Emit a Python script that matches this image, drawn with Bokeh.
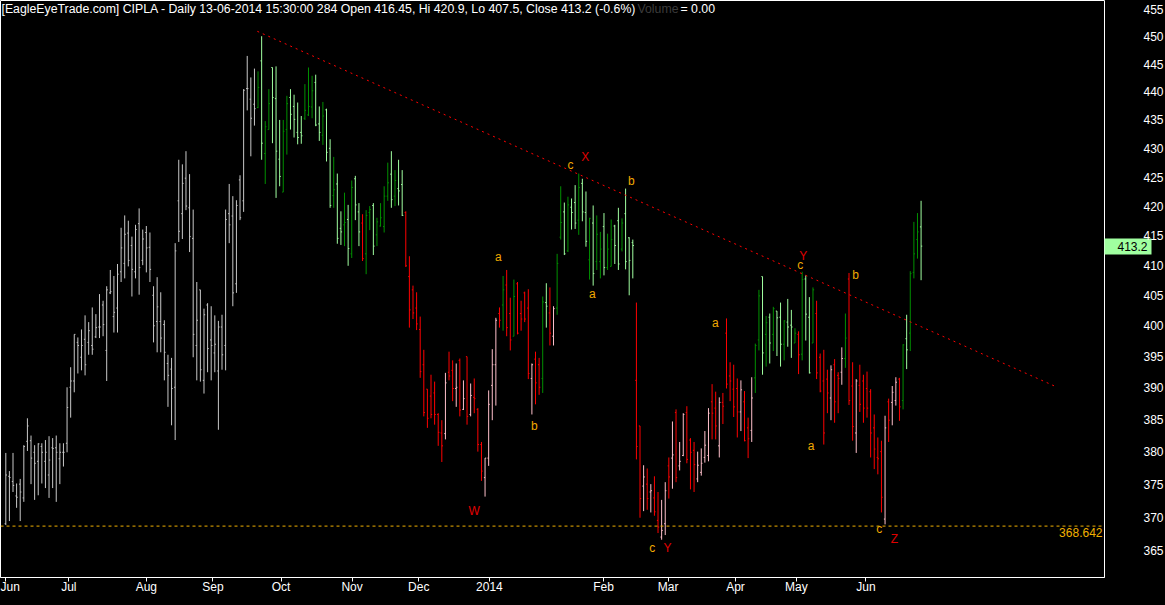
from bokeh.plotting import figure
from bokeh.models import (Range1d, FixedTicker, PrintfTickFormatter, LinearAxis, LogAxis, Label,
                          ColumnDataSource, Span)
from bokeh.core.properties import value
from bokeh.embed import file_html
from bokeh.resources import INLINE

# ---------------- data (CIPLA daily OHLC, Jun 2013 - 13 Jun 2014) ----------------
opens = [
    369.0, 376.2, 375.4, 373.2, 375.0, 372.9, 381.6, 381.7, 379.9, 378.5,
    380.8, 378.5, 376.4, 380.6, 380.6, 378.9, 379.9, 381.3, 390.1, 391.1,
    397.3, 394.9, 397.8, 397.3, 396.8, 398.2, 399.8, 403.4, 396.0, 405.4,
    401.5, 402.9, 408.9, 410.3, 415.4, 413.3, 408.9, 417.0, 410.8, 415.5,
    413.0, 405.0, 400.7, 400.7, 400.2, 393.9, 393.0, 390.1, 420.9, 418.7,
    424.8, 419.7, 414.5, 396.8, 405.9, 391.2, 403.4, 397.7, 395.6, 392.7,
    399.8, 396.8, 418.7, 418.3, 406.9, 424.5, 420.9, 440.6, 438.7, 437.8,
    437.2, 445.6, 429.1, 433.3, 444.4, 438.8, 428.1, 422.4, 433.3, 439.0,
    437.4, 432.8, 432.8, 435.3, 435.9, 437.3, 441.7, 434.3, 432.3, 436.8,
    430.0, 421.8, 423.8, 416.2, 416.8, 417.7, 411.9, 424.7, 419.0, 417.1,
    411.9, 418.9, 420.1, 415.1, 416.6, 416.5, 421.7, 425.5, 421.7, 423.0,
    423.7, 418.9, 408.1, 405.9, 402.9, 399.4, 393.7, 389.8, 388.7, 389.2,
    385.8, 382.9, 382.8, 392.5, 392.8, 389.9, 394.4, 386.6, 395.0, 385.8,
    388.5, 386.6, 381.1, 376.0, 379.0, 390.4, 393.7, 402.0, 403.4, 406.7,
    402.0, 398.3, 406.9, 402.0, 405.4, 402.9, 391.5, 394.6, 393.7, 391.5,
    403.8, 402.1, 398.3, 402.9, 414.7, 419.0, 412.4, 419.8, 420.6, 417.6,
    423.9, 418.9, 410.9, 417.1, 410.6, 410.6, 416.5, 409.6, 409.8, 416.6,
    417.5, 412.7, 418.7, 414.6, 413.8, 391.2, 384.0, 374.7, 375.0, 373.8,
    372.9, 369.5, 367.0, 369.0, 377.8, 379.0, 386.1, 377.8, 379.4, 386.1,
    381.8, 380.2, 375.8, 376.8, 379.1, 379.4, 387.8, 386.8, 380.9, 387.7,
    398.8, 391.9, 389.8, 389.9, 386.2, 387.8, 383.7, 383.3, 391.6, 397.7,
    408.1, 398.6, 401.4, 398.6, 402.4, 401.4, 397.0, 400.6, 400.1, 397.2,
    398.6, 395.4, 407.7, 401.4, 397.2, 402.0, 394.9, 391.1, 391.4, 388.4,
    393.7, 392.0, 392.5, 394.7, 407.7, 390.3, 382.9, 390.4, 391.1, 389.9,
    389.4, 383.7, 379.1, 380.0, 369.7, 387.8, 387.7, 388.0, 391.4, 388.0,
    397.9, 398.8, 408.8, 414.3, 416.45]

highs = [
    379.8, 377.0, 379.8, 375.1, 375.8, 381.0, 385.2, 382.5, 381.0, 381.3,
    381.3, 381.8, 382.4, 382.1, 382.5, 381.3, 381.3, 390.1, 393.3, 398.6,
    398.1, 399.4, 401.7, 400.6, 403.0, 401.9, 405.2, 404.1, 406.5, 409.2,
    408.2, 410.2, 416.3, 418.4, 417.5, 414.8, 416.8, 419.6, 416.0, 416.6,
    415.5, 406.5, 408.0, 405.5, 400.9, 395.3, 394.8, 413.7, 428.0, 427.2,
    429.5, 425.5, 419.4, 407.2, 405.9, 402.8, 403.7, 403.2, 401.7, 400.8,
    401.8, 419.4, 423.8, 421.7, 421.0, 425.3, 440.5, 446.5, 442.6, 444.2,
    443.7, 450.1, 434.8, 440.5, 444.4, 444.6, 435.0, 435.0, 439.3, 440.5,
    439.5, 438.1, 435.7, 441.4, 444.4, 442.9, 443.1, 437.4, 438.2, 437.0,
    431.6, 428.5, 425.6, 419.1, 422.3, 420.2, 424.4, 425.2, 420.5, 418.6,
    419.3, 420.0, 420.5, 418.0, 420.5, 423.4, 427.5, 429.5, 426.2, 428.0,
    426.2, 419.1, 411.5, 406.6, 405.5, 401.5, 396.1, 389.8, 392.1, 391.0,
    386.0, 384.9, 392.4, 395.8, 394.4, 393.9, 394.7, 391.2, 395.0, 390.7,
    391.5, 386.8, 381.5, 379.0, 389.6, 396.2, 401.3, 403.0, 408.2, 409.2,
    404.6, 407.6, 407.2, 404.1, 405.6, 406.0, 393.9, 395.8, 394.8, 404.8,
    407.0, 406.3, 403.2, 411.9, 423.4, 420.6, 421.6, 421.3, 423.6, 425.6,
    424.7, 422.5, 418.0, 420.1, 418.4, 415.6, 418.8, 415.3, 417.7, 416.8,
    419.7, 417.9, 423.0, 414.7, 414.3, 403.8, 384.0, 377.9, 377.4, 375.0,
    376.2, 373.8, 372.6, 375.3, 379.1, 384.7, 386.6, 381.5, 386.0, 387.1,
    382.1, 381.5, 380.0, 380.5, 383.2, 386.8, 390.6, 389.4, 388.5, 389.2,
    401.2, 394.1, 393.7, 391.5, 391.2, 389.5, 385.3, 391.7, 397.1, 405.9,
    408.1, 401.6, 402.0, 403.1, 402.4, 403.8, 400.9, 404.4, 402.6, 399.6,
    399.1, 408.9, 408.3, 404.7, 406.3, 404.1, 395.5, 396.1, 392.9, 393.6,
    394.6, 392.5, 396.5, 402.0, 408.7, 394.1, 391.4, 393.7, 392.1, 392.6,
    389.8, 385.8, 382.2, 381.7, 385.6, 388.3, 390.3, 391.7, 391.6, 397.0,
    401.8, 409.0, 417.3, 418.8, 420.9]

lows = [
    368.8, 369.4, 373.8, 371.4, 369.4, 372.3, 380.1, 375.0, 372.6, 373.3,
    375.1, 374.4, 372.9, 374.4, 372.3, 375.0, 377.7, 379.9, 385.3, 389.3,
    392.3, 392.8, 392.0, 395.3, 395.3, 398.0, 398.0, 398.3, 391.1, 405.2,
    398.9, 398.9, 407.2, 407.8, 409.8, 404.8, 407.8, 405.1, 410.0, 408.8,
    407.2, 397.3, 395.7, 395.7, 391.2, 387.0, 384.1, 381.8, 413.9, 414.4,
    419.3, 412.2, 394.9, 391.2, 391.0, 389.1, 392.5, 391.2, 392.5, 383.4,
    392.9, 392.8, 413.7, 403.2, 405.4, 417.6, 419.0, 436.7, 428.6, 434.0,
    437.1, 428.0, 423.8, 433.3, 430.9, 421.4, 423.4, 422.4, 428.9, 433.3,
    431.9, 430.7, 430.8, 435.0, 435.7, 435.3, 433.9, 431.3, 430.6, 427.7,
    419.7, 419.7, 413.6, 413.4, 413.2, 409.9, 411.2, 417.6, 413.2, 410.7,
    408.5, 415.9, 411.7, 413.2, 416.5, 415.5, 420.9, 419.7, 420.0, 420.1,
    418.3, 409.7, 399.7, 401.1, 399.3, 391.6, 385.5, 383.7, 385.2, 384.2,
    380.9, 378.4, 381.9, 391.2, 387.9, 387.0, 385.5, 386.5, 384.2, 385.5,
    386.0, 380.0, 375.5, 373.1, 377.8, 384.9, 387.2, 399.7, 399.2, 398.3,
    396.0, 398.3, 398.6, 399.2, 400.6, 391.4, 385.8, 387.4, 388.9, 389.2,
    399.7, 396.8, 396.8, 401.8, 414.3, 411.7, 412.2, 416.0, 416.1, 415.1,
    417.4, 413.1, 407.6, 406.6, 409.2, 407.8, 408.3, 409.2, 409.8, 410.2,
    409.2, 412.3, 409.3, 405.0, 407.8, 378.8, 369.9, 370.9, 371.1, 370.7,
    370.2, 367.6, 366.6, 367.3, 372.8, 374.3, 375.3, 377.1, 379.3, 378.2,
    374.2, 373.8, 375.3, 376.3, 378.3, 378.5, 381.9, 381.9, 379.1, 384.3,
    389.9, 387.9, 385.4, 382.2, 383.2, 381.6, 379.0, 381.5, 389.2, 396.0,
    392.1, 393.4, 393.9, 395.9, 395.1, 393.4, 394.4, 396.6, 394.8, 397.2,
    392.2, 394.4, 397.6, 392.3, 397.2, 391.4, 389.3, 381.1, 386.0, 384.9,
    384.5, 386.0, 390.5, 393.2, 387.3, 381.7, 379.8, 386.2, 384.5, 385.3,
    379.1, 377.3, 376.5, 370.7, 368.9, 381.5, 384.1, 387.2, 384.8, 386.6,
    393.0, 395.9, 407.8, 411.1, 407.5]

closes = [
    376.4, 376.0, 374.8, 373.0, 373.8, 380.8, 384.0, 379.0, 378.2, 381.2,
    379.9, 379.9, 378.7, 380.5, 379.9, 379.9, 379.9, 386.9, 391.1, 398.6,
    396.8, 396.8, 393.7, 399.2, 396.2, 399.7, 399.8, 400.2, 405.9, 405.6,
    402.2, 408.5, 412.9, 415.2, 410.8, 409.3, 416.0, 409.6, 414.4, 412.9,
    409.3, 400.0, 403.1, 398.0, 395.7, 392.0, 389.9, 412.4, 415.7, 423.9,
    420.0, 414.8, 398.6, 400.9, 392.9, 401.8, 396.3, 396.8, 397.0, 399.8,
    395.3, 417.7, 416.8, 405.4, 420.1, 418.0, 440.3, 440.6, 435.3, 437.0,
    440.8, 430.9, 433.8, 437.9, 439.0, 429.5, 425.1, 433.0, 437.9, 436.0,
    435.1, 431.9, 432.2, 436.7, 437.4, 440.2, 434.1, 432.8, 435.7, 429.3,
    420.1, 422.8, 414.5, 415.6, 417.2, 412.8, 423.2, 420.2, 415.6, 411.1,
    418.4, 419.4, 413.2, 417.3, 418.0, 421.7, 424.0, 421.1, 424.4, 422.6,
    418.4, 409.9, 402.6, 402.1, 400.3, 392.6, 386.1, 385.2, 385.8, 385.8,
    383.0, 380.9, 390.8, 391.9, 389.9, 390.1, 386.5, 388.3, 385.5, 388.8,
    388.3, 381.1, 377.0, 379.0, 387.4, 393.7, 400.9, 400.9, 405.9, 399.7,
    397.7, 404.8, 398.8, 401.1, 401.1, 392.3, 393.7, 390.8, 390.1, 403.9,
    403.2, 398.8, 402.8, 410.3, 417.2, 411.9, 420.2, 418.9, 417.1, 423.2,
    419.0, 414.0, 417.9, 408.6, 415.2, 412.7, 409.6, 412.7, 414.3, 413.3,
    410.2, 417.1, 410.6, 410.8, 413.3, 380.8, 372.8, 376.1, 372.8, 374.0,
    370.8, 368.5, 368.0, 374.0, 376.1, 379.5, 376.0, 378.5, 385.8, 378.8,
    379.9, 378.0, 377.9, 378.2, 381.0, 386.0, 386.0, 384.0, 387.7, 387.1,
    390.6, 391.1, 387.0, 386.2, 389.7, 381.7, 382.0, 388.4, 396.8, 404.9,
    395.6, 400.5, 397.2, 402.8, 401.3, 397.0, 400.8, 399.8, 399.8, 398.8,
    395.3, 407.6, 401.9, 392.4, 405.9, 392.4, 389.5, 382.9, 389.2, 392.9,
    387.8, 391.5, 394.7, 398.0, 388.0, 383.9, 391.1, 387.4, 386.8, 386.8,
    382.9, 380.4, 378.9, 373.0, 383.7, 384.9, 389.3, 390.9, 387.0, 396.9,
    396.1, 408.6, 411.9, 415.6, 413.2]

# trend state of each bar (n = neutral, u = up-trend, d = down-trend), as runs
trend_runs = [("n", 70), ("u", 29), ("d", 1), ("u", 11), ("d", 27), ("u", 1), ("d", 2),
              ("u", 1), ("d", 7), ("u", 2), ("d", 2), ("u", 22), ("d", 33), ("u", 12),
              ("d", 1), ("u", 4), ("d", 8), ("u", 1), ("d", 15), ("u", 6)]

month_ticks = [0.0, 17.5, 39.0, 57.5, 76.4, 96.1, 114.6, 134.2, 165.9, 183.8, 202.5, 219.4, 238.7]
month_labels = ["Jun", "Jul", "Aug", "Sep", "Oct", "Nov", "Dec", "2014",
                "Feb", "Mar", "Apr", "May", "Jun"]
price_ticks = [365, 370, 375, 380, 385, 390, 395, 400, 405, 410, 415, 420,
               425, 430, 435, 440, 445, 450, 455]

support_level = 368.642
trend_x = [69.8, 291.8]
trend_y = [451.0, 390.1]

wave_text = ["W", "X", "c", "b", "a", "a", "b", "c", "Y", "a", "c", "Y", "b", "a", "c", "Z"]
wave_x = [130.0, 160.8, 156.7, 173.6, 162.8, 136.7, 146.7, 179.4, 183.6, 196.9,
          220.5, 221.3, 235.8, 223.5, 242.4, 246.6]
wave_y = [370.9, 428.5, 427.1, 424.3, 405.2, 411.3, 384.0, 365.3, 365.4, 400.5,
          410.0, 411.5, 408.3, 380.9, 368.2, 366.7]

# ---------------- styling ----------------
FONT = "Liberation Sans"
MARKER_GREEN = "#a0ffa0"
BAR_COLORS = {("n", True): "#c8c8c8", ("n", False): "#c8c8c8",
              ("u", True): "#009000", ("u", False): MARKER_GREEN,
              ("d", True): "#ffc0cb", ("d", False): "#ff0000"}

regime = "".join(code * count for code, count in trend_runs)
idx = list(range(len(opens)))
bar_colors = [BAR_COLORS[(regime[i], closes[i] > opens[i])] for i in idx]
TICK = 0.32
src = ColumnDataSource(dict(
    x=idx, xl=[i - TICK for i in idx], xr=[i + TICK for i in idx],
    o=opens, h=highs, l=lows, c=closes, col=bar_colors))

p = figure(frame_width=1104, frame_height=577,
           x_range=Range1d(-1.47, 304.9), y_range=Range1d(361.0, 456.7),
           y_axis_type="log", y_axis_location="right",
           output_backend="svg", toolbar_location=None,
           background_fill_color="black", border_fill_color="black",
           outline_line_color="white",
           min_border_left=0, min_border_right=0, min_border_top=0, min_border_bottom=4)
p.xgrid.visible = False
p.ygrid.visible = False

# bottom (date) axis
xa = p.xaxis[0]
xa.ticker = FixedTicker(ticks=month_ticks)
xa.major_label_overrides = {t: lab for t, lab in zip(month_ticks, month_labels)}
xa.major_label_text_align = "left"
xa.major_label_text_color = "white"
xa.major_label_text_font = FONT
xa.major_label_text_font_size = "12px"
xa.major_tick_out = 4
xa.major_tick_in = 0
xa.minor_tick_out = 0
xa.minor_tick_in = 0
xa.major_tick_line_color = "white"
xa.axis_line_color = "white"
xa.major_label_standoff = -2

# lower border of the (empty) volume strip
xa2 = LinearAxis(ticker=FixedTicker(ticks=[0.0]), axis_line_color="white", axis_line_width=1,
                 major_tick_out=0, major_tick_in=0, minor_tick_out=0, minor_tick_in=0,
                 major_label_standoff=0, major_label_text_color=None,
                 major_label_text_font_size="2px")
p.add_layout(xa2, "below")

# last-price marker axis (closest to the frame): a wide green tick under a black label
last = closes[-1]
marker_axis = LogAxis(ticker=FixedTicker(ticks=[last]),
                      formatter=PrintfTickFormatter(format="%.1f"),
                      axis_line_color=None, major_tick_in=0, major_tick_out=47,
                      major_tick_line_color=MARKER_GREEN, major_tick_line_width=16,
                      minor_tick_in=0, minor_tick_out=0, major_label_standoff=-34,
                      major_label_text_color="black",
                      major_label_text_font=FONT, major_label_text_font_size="12px",
                      major_label_text_align="left")

ya = p.yaxis[0]
ya.ticker = FixedTicker(ticks=price_ticks)
ya.formatter = PrintfTickFormatter(format="%d")
ya.major_label_text_color = "white"
ya.major_label_text_font = FONT
ya.major_label_text_font_size = "12px"
ya.major_label_text_align = "left"
ya.major_tick_out = 0
ya.major_tick_in = 0
ya.minor_tick_out = 0
ya.minor_tick_in = 0
ya.axis_line_color = None
ya.major_label_standoff = -7
p.right = [marker_axis, ya]

# OHLC bars
p.segment(x0="x", y0="l", x1="x", y1="h", line_color="col", line_width=1, source=src)
p.segment(x0="xl", y0="o", x1="x", y1="o", line_color="col", line_width=1, source=src)
p.segment(x0="x", y0="c", x1="xr", y1="c", line_color="col", line_width=1, source=src)

# support line and falling trendline
p.add_layout(Span(location=support_level, dimension="width", line_color="#f0b000",
                  line_dash="3 3", line_width=1))
p.line(trend_x, trend_y, line_color="#ff0000", line_dash="2 4", line_width=1)

# wave labels
wave_colors = ["#e00000" if t.isupper() else "#f0a800" for t in wave_text]
p.text(x=wave_x, y=wave_y, text=wave_text, text_color=wave_colors,
       text_align="center", text_baseline="middle",
       text_font=value(FONT), text_font_size="12px")

# header text
title_text = ("[EagleEyeTrade.com] CIPLA - Daily 13-06-2014 15:30:00 284 "
              f"Open {opens[-1]}, Hi {highs[-1]}, Lo {lows[-1]}, Close {closes[-1]} (-0.6%)")
p.add_layout(Label(x=1, y=576, x_units="screen", y_units="screen", text=title_text,
                   text_color="white", text_font=FONT, text_font_size="12.3px",
                   text_baseline="top"))
p.add_layout(Label(x=637, y=576, x_units="screen", y_units="screen", text="Volume",
                   text_color="#3c3c3c", text_font=FONT, text_font_size="12.3px",
                   text_baseline="top"))
p.add_layout(Label(x=680, y=576, x_units="screen", y_units="screen", text="= 0.00",
                   text_color="white", text_font=FONT, text_font_size="12.3px",
                   text_baseline="top"))

# support value label
p.add_layout(Label(x=1102, y=support_level, x_units="screen", y_units="data",
                   text=f"{support_level}", text_color="#f0b000", text_font=FONT,
                   text_font_size="12px", text_align="right", text_baseline="top",
                   y_offset=-2))

html = file_html(p, INLINE)
html = html.replace("<head>", "<head><style>html, body { background: #000000; }</style>", 1)
open("out.html", "w").write(html)
